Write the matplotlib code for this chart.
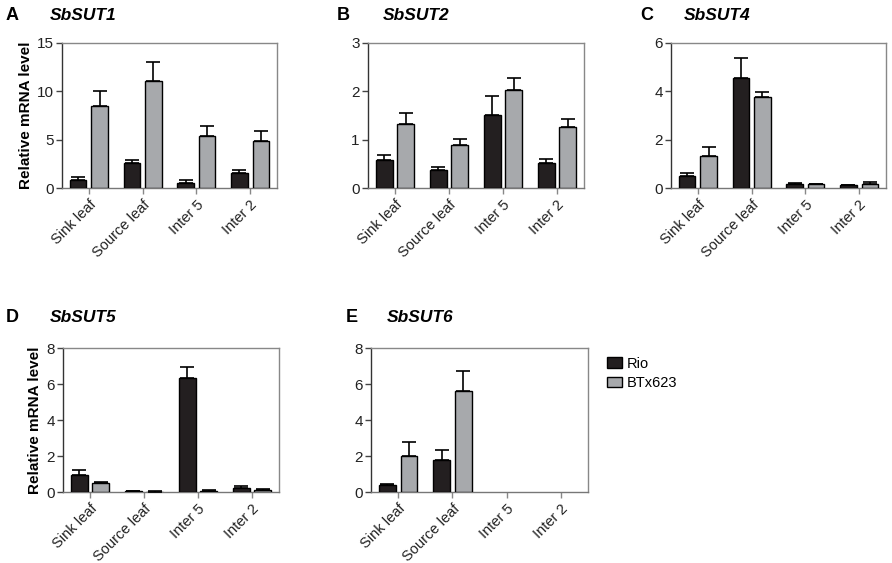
import matplotlib
matplotlib.use("Agg")
import matplotlib.pyplot as plt
import numpy as np

# tissues on the x axis
tissues = ["Sink leaf", "Source leaf", "Inter 5", "Inter 2"]

# relative mRNA level (mean, SE) for Rio and BTx623
sut1_rio = [0.8, 2.55, 0.55, 1.55]
sut1_rio_err = [0.3, 0.3, 0.25, 0.3]
sut1_btx = [8.5, 11.1, 5.4, 4.85]
sut1_btx_err = [1.5, 1.9, 1.0, 1.0]

sut2_rio = [0.57, 0.37, 1.52, 0.52]
sut2_rio_err = [0.12, 0.06, 0.39, 0.09]
sut2_btx = [1.33, 0.9, 2.02, 1.26]
sut2_btx_err = [0.23, 0.12, 0.26, 0.16]

sut4_rio = [0.5, 4.55, 0.15, 0.12]
sut4_rio_err = [0.12, 0.83, 0.04, 0.02]
sut4_btx = [1.33, 3.78, 0.16, 0.18]
sut4_btx_err = [0.37, 0.2, 0.02, 0.05]

sut5_rio = [0.92, 0.03, 6.35, 0.25]
sut5_rio_err = [0.3, 0.01, 0.6, 0.09]
sut5_btx = [0.48, 0.02, 0.08, 0.09]
sut5_btx_err = [0.08, 0.01, 0.03, 0.05]

sut6_rio = [0.4, 1.76, np.nan, np.nan]
sut6_rio_err = [0.07, 0.6, np.nan, np.nan]
sut6_btx = [2.0, 5.6, np.nan, np.nan]
sut6_btx_err = [0.8, 1.1, np.nan, np.nan]

plt.rcParams['font.family'] = ['Liberation Sans', 'DejaVu Sans']

W, H = 892, 563
fig = plt.figure(figsize=(W / 100, H / 100), dpi=100)

RIO_C = '#231f20'
BTX_C = '#a7a9ac'


def px_axes(l, t, r, b):
    return fig.add_axes([l / W, 1 - b / H, (r - l) / W, (b - t) / H])


def panel(ax, rio, rio_err, btx, btx_err, ymax, step, ylabel=False):
    x = np.arange(len(tissues))
    w = 0.31
    ek = dict(ecolor='black', elinewidth=1.2, capsize=5, capthick=1.2)
    ax.bar(x - 0.2, rio, w, color=RIO_C, edgecolor='black', linewidth=1.0,
           yerr=[np.zeros(len(rio)), rio_err], error_kw=ek, label='Rio', zorder=3)
    ax.bar(x + 0.2, btx, w, color=BTX_C, edgecolor='black', linewidth=1.0,
           yerr=[np.zeros(len(btx)), btx_err], error_kw=ek, label='BTx623', zorder=3)
    ax.set_xlim(-0.5, 3.5)
    ax.set_ylim(0, ymax)
    ax.set_yticks(np.arange(0, ymax + 0.01, step))
    ax.set_xticks(x)
    ax.set_xticklabels(tissues, rotation=45, ha='right', rotation_mode='anchor',
                       fontsize=10.5, color='#222222')
    ax.tick_params(axis='y', labelsize=11, labelcolor='#222222', length=4,
                   color='#444444', width=1, pad=2)
    ax.tick_params(axis='x', length=4, color='#888888', width=1, pad=3)
    ax.spines['left'].set_color('#333333')
    ax.spines['bottom'].set_color('#777777')
    ax.spines['top'].set_color('#888888')
    ax.spines['right'].set_color('#888888')
    for s in ax.spines.values():
        s.set_linewidth(1.0)
    if ylabel:
        ax.set_ylabel('Relative mRNA level', fontsize=11, fontweight='bold',
                      labelpad=3)


axA = px_axes(62, 43, 277, 188)
panel(axA, sut1_rio, sut1_rio_err, sut1_btx, sut1_btx_err, 15, 5, ylabel=True)
axB = px_axes(368, 43, 584, 188)
panel(axB, sut2_rio, sut2_rio_err, sut2_btx, sut2_btx_err, 3, 1)
axC = px_axes(671, 43, 886, 188)
panel(axC, sut4_rio, sut4_rio_err, sut4_btx, sut4_btx_err, 6, 2)
axD = px_axes(63, 348, 279, 492)
panel(axD, sut5_rio, sut5_rio_err, sut5_btx, sut5_btx_err, 8, 2, ylabel=True)
axE = px_axes(371, 348, 588, 492)
panel(axE, sut6_rio, sut6_rio_err, sut6_btx, sut6_btx_err, 8, 2)

# panel letters and gene names
letters = [("A", 6, 16, "SbSUT1", 50), ("B", 337, 16, "SbSUT2", 383),
           ("C", 640, 16, "SbSUT4", 684), ("D", 6, 318, "SbSUT5", 50),
           ("E", 346, 318, "SbSUT6", 387)]
for let, lx, ly, gene, gx in letters:
    fig.text(lx / W, 1 - ly / H, let, fontsize=13, fontweight='bold', va='center')
    fig.text(gx / W, 1 - ly / H, gene, fontsize=12.5, fontweight='bold',
             style='italic', va='center')

handles, labels = axE.get_legend_handles_labels()
fig.legend(handles, labels, loc='upper left', bbox_to_anchor=(601 / W, 1 - 351 / H),
           frameon=False, fontsize=10.5, handlelength=1.05, handleheight=0.75,
           handletextpad=0.35, labelspacing=0.35, borderaxespad=0)

plt.savefig('out.png', dpi=100)
